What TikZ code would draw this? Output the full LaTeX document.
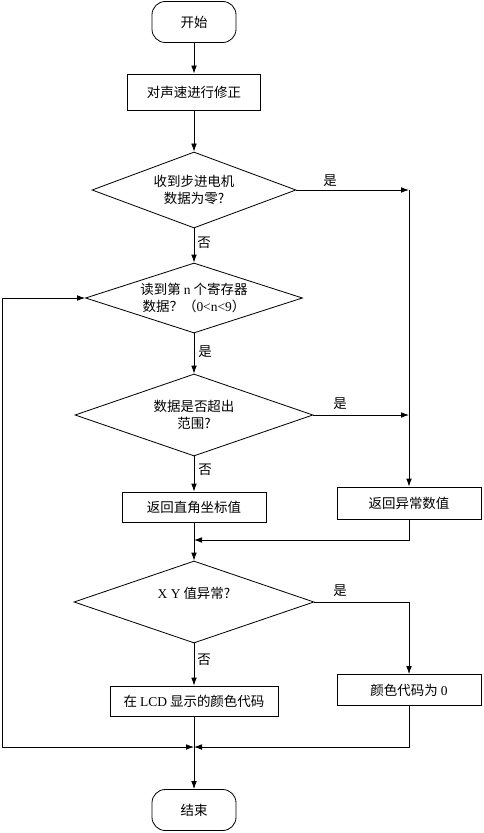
\documentclass[tikz,border=0pt]{standalone}
\usepackage{fontspec}
\setmainfont{Noto Sans CJK SC}
\newfontfamily\latin{Liberation Serif}
\usetikzlibrary{arrows.meta}
\usetikzlibrary{shapes.geometric}

\begin{document}
\begin{tikzpicture}[
		x=0.3mm, y=-0.3mm, line width=0.7pt,
		font=\fontsize{11.5pt}{15pt}\selectfont,
		>={Latex[length=2.4mm,width=1.7mm]},
		term/.style={draw, rounded corners=4mm, minimum width=25.2mm, minimum height=12.3mm},
		block/.style={draw, minimum height=9mm},
		decision/.style={draw, diamond, aspect=3, inner sep=0pt, align=center},
	]
		\useasboundingbox (0,0) rectangle (483,833);

		\node[term] (start) at (194,22) {开始};
		\node[block, minimum width=39.9mm, minimum height=10.8mm] (corr) at (194,92) {对声速进行修正};
		\node[decision, minimum width=61.2mm, minimum height=22.8mm] (zero) at (194,190) {收到步进电机\\数据为零?};
		\node[decision, minimum width=65.1mm, minimum height=21mm] (readn) at (194,298) {读到第 {\latin n} 个寄存器\\数据？（{\latin 0<n<9}）};
		\node[decision, minimum width=71.4mm, minimum height=24.6mm] (range) at (194,415) {数据是否超出\\范围?};
		\node[block, minimum width=43.2mm] (ret) at (194,507) {返回直角坐标值};
		\node[block, minimum width=43.2mm, minimum height=9.6mm] (err) at (409,503) {返回异常数值};
		\node[decision, minimum width=72mm, minimum height=24.6mm] (xy) at (194,602) {{\latin X Y} 值异常?\\\mbox{}};
		\node[block, minimum width=50.4mm] (lcd) at (194,701) {在 {\latin LCD} 显示的颜色代码};
		\node[block, minimum width=43.2mm, minimum height=9.3mm] (zcol) at (409,690) {颜色代码为 {\latin 0}};
		\node[term] (stop) at (194,810) {结束};

		\coordinate (up) at (409,190);
		\coordinate (mid) at (409,415);
		\coordinate (m1) at (194,540);
		\coordinate (m2) at (194,747);
		\coordinate (loop) at (2,747);

		\draw[->] (start) -- (corr);
		\draw[->] (corr) -- (zero);
		\draw[->] (zero.east) -- (up);
		\draw[->] (up) -- (err.north);
		\draw[->] (zero) -- (readn);
		\draw[->] (readn) -- (range);
		\draw[->] (range.east) -- (mid);
		\draw[->] (range) -- (ret);
		\draw[->] (err.south) |- (m1);
		\draw[->] (ret) -- (xy);
		\draw[->] (xy.east) -| (zcol.north);
		\draw[->] (xy) -- (lcd);
		\draw[->] (zcol.south) |- (m2);
		\draw[->] (lcd) -- (stop);
		\draw[->] (loop) |- (readn.west);
		\draw[->] (loop) -- (m2);

		\node (yes1) at (330,181) {是};
		\node (yes2) at (205,352) {是};
		\node (yes3) at (340,404) {是};
		\node (yes4) at (340,591) {是};
		\node (no1) at (204,243) {否};
		\node (no2) at (205,470) {否};
		\node (no3) at (204,660) {否};
	\end{tikzpicture}
\end{document}
